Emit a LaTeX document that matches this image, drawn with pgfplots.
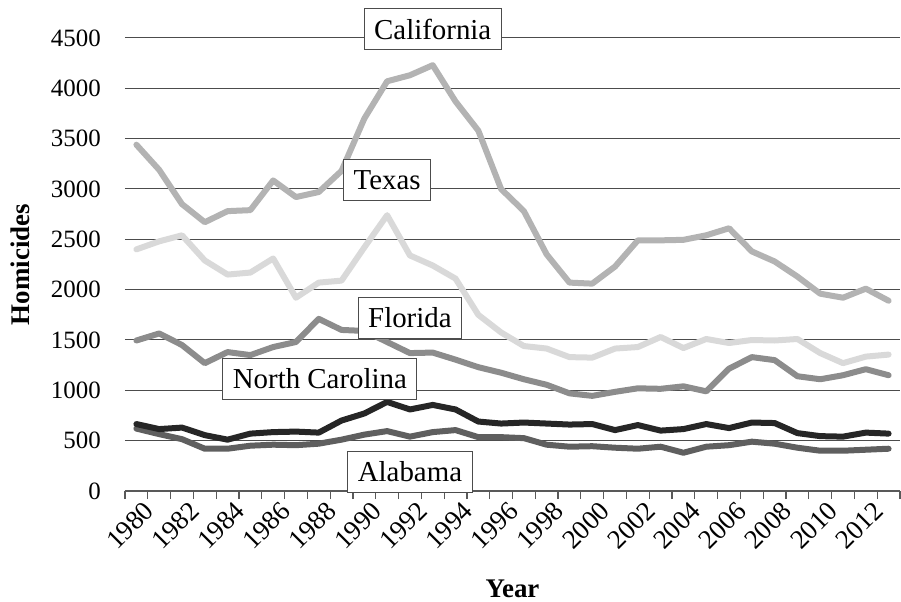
\documentclass[border=0pt]{standalone}
\usepackage{pgfplots}
\pgfplotsset{compat=1.18}
\usepackage{pgfplotstable}
\usepackage{fontspec}
\setmainfont{Liberation Serif}
\definecolor{caC}{HTML}{B3B3B3}
\definecolor{txC}{HTML}{D9D9D9}
\definecolor{flC}{HTML}{8C8C8C}
\definecolor{ncC}{HTML}{262626}
\definecolor{alC}{HTML}{5F5F5F}
\pgfplotstableread{
year CA TX FL NC AL
1980 3440 2400 1495 665 620
1981 3190 2480 1565 615 565
1982 2850 2540 1450 630 515
1983 2670 2290 1270 555 420
1984 2780 2150 1380 510 420
1985 2790 2170 1350 570 450
1986 3085 2310 1430 585 460
1987 2920 1920 1480 590 455
1988 2970 2070 1710 580 470
1989 3180 2090 1600 700 510
1990 3700 2420 1590 770 560
1991 4070 2740 1480 885 595
1992 4130 2340 1370 810 540
1993 4230 2240 1375 855 585
1994 3870 2110 1305 810 605
1995 3580 1750 1230 690 535
1996 3000 1575 1175 670 535
1997 2780 1440 1110 680 525
1998 2350 1415 1055 670 460
1999 2070 1330 970 660 440
2000 2060 1325 945 665 445
2001 2230 1415 985 605 430
2002 2490 1430 1020 655 420
2003 2490 1530 1015 600 440
2004 2495 1420 1040 615 380
2005 2540 1510 990 665 440
2006 2610 1470 1215 625 455
2007 2380 1500 1330 680 490
2008 2280 1495 1300 675 470
2009 2130 1510 1140 575 430
2010 1960 1370 1110 545 400
2011 1920 1270 1150 540 400
2012 2010 1335 1210 580 410
2013 1890 1355 1150 570 420
}\data
\pgfkeys{/pgf/number format/set thousands separator={}, /pgf/number format/assume math mode=true}
\begin{document}
\begin{tikzpicture}
\begin{axis}[
  name=ax,
  scale only axis, width=775bp, height=453bp,
  xmin=1979.5, xmax=2013.5, ymin=0, ymax=4500,
  clip=false,
  axis x line*=bottom, axis y line*=left,
  y axis line style={draw=none},
  x axis line style={draw=black!65, line width=1.2bp},
  ytick={0,500,...,4500},
  ymajorgrids, grid style={black!70, line width=1bp},
  ytick style={draw=none},
  xtick={1980,1982,...,2012},
  minor xtick={1979.5,1980.5,...,2013.5},
  tick align=outside, major tick length=0pt, minor tick length=8bp,
  xtick style={black!65, line width=1.2bp},
  y tick label style={anchor=east, inner sep=0pt, xshift=-24bp, font=\fontsize{25}{25}\selectfont},
  x tick label style={font=\fontsize{27}{27}\selectfont, rotate=45, anchor=east, inner sep=0pt, yshift=-20bp, xshift=-2bp},
  xlabel={\textbf{Year}},
  ylabel={\textbf{Homicides}},
  xlabel style={at={(axis description cs:0.5,-0.216)}, anchor=center, font=\fontsize{27}{27}\selectfont},
  ylabel style={at={(axis description cs:-0.1355,0.5)}, anchor=center, font=\fontsize{27}{27}\selectfont},
  every axis plot/.append style={line width=6bp, line join=round, line cap=round, no markers},
]
\addplot[alC] table[x=year, y=AL] {\data};
\addplot[caC] table[x=year, y=CA] {\data};
\addplot[flC] table[x=year, y=FL] {\data};
\addplot[ncC] table[x=year, y=NC] {\data};
\addplot[txC] table[x=year, y=TX] {\data};
\tikzset{lab/.style={draw=black!70, fill=white, line width=1bp, inner xsep=10bp, inner ysep=0pt, minimum height=41bp, font=\fontsize{29}{29}\selectfont}}
\node[lab] at (axis cs:1993,4587) {California};
\node[lab] at (axis cs:1991,3091) {Texas};
\node[lab] at (axis cs:1992,1720) {Florida};
\node[lab] at (axis cs:1988.05,1116) {North Carolina};
\node[lab] at (axis cs:1992,192) {Alabama};
\end{axis}
\pgfresetboundingbox
\path[use as bounding box] ([xshift=-125bp,yshift=-111bp]ax.south west) rectangle ([xshift=1bp,yshift=38bp]ax.north east);
\end{tikzpicture}
\end{document}
